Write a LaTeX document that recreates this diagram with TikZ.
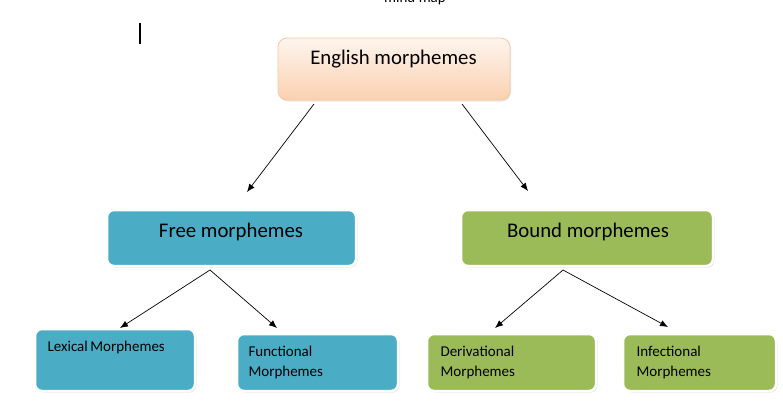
\documentclass[tikz,border=0pt]{standalone}
\usepackage{fontspec}
\setmainfont{Carlito}
\usetikzlibrary{shadows,arrows.meta}
\definecolor{freeblue}{HTML}{4BACC6}
\definecolor{boundgreen}{HTML}{9BBB59}
\definecolor{engtop}{HTML}{FEF5EE}
\definecolor{engbot}{HTML}{FAD1B0}
\definecolor{engline}{HTML}{F5C9A2}
\begin{document}
\begin{tikzpicture}[x=1pt,y=-1pt,
	box/.style={rectangle,rounded corners=7pt,draw=white,line width=2.5pt,
		drop shadow={shadow xshift=1.5pt,shadow yshift=-1.5pt,fill=black!22}},
	engbox/.style={rectangle,rounded corners=9pt,draw=engline,line width=0.8pt,
		top color=engtop,bottom color=engbot,
		drop shadow={shadow xshift=1pt,shadow yshift=-1.5pt,fill=black!18}},
	bigtext/.style={font=\fontsize{20.8}{24}\selectfont},
	smalltext/.style={font=\fontsize{15}{20}\selectfont,align=left,anchor=west}]
	\useasboundingbox (0,0) rectangle (783,412);
	% header remnants
	\node[font=\fontsize{15}{16}\selectfont,anchor=base] (title) at (415,3) {mind map};
	\draw[line width=1.3pt] (140,23) coordinate (c1) -- (140,44) coordinate (c2);
	% boxes
	\node[engbox,minimum width=232,minimum height=62] (eng) at (394,69) {};
	\node[box,fill=freeblue,minimum width=249,minimum height=56] (free) at (231.5,238) {};
	\node[box,fill=boundgreen,minimum width=252,minimum height=56] (bound) at (587,238) {};
	\node[box,fill=freeblue,minimum width=160,minimum height=62] (lex) at (115,360) {};
	\node[box,fill=freeblue,minimum width=161,minimum height=57] (func) at (317.5,362.5) {};
	\node[box,fill=boundgreen,minimum width=169,minimum height=57] (deriv) at (511.5,362.5) {};
	\node[box,fill=boundgreen,minimum width=153,minimum height=57] (infl) at (699.5,362.5) {};
	% texts
	\node[bigtext] (engtext) at (393.5,59) {English morphemes};
	\node[bigtext] (freetext) at (231,232) {Free morphemes};
	\node[bigtext] (boundtext) at (588,232) {Bound morphemes};
	\node[smalltext] (lextext) at (44,347) {Lexical\,Morphemes};
	\node[smalltext] (functext) at (245,362) {Functional\\Morphemes};
	\node[smalltext] (derivtext) at (437,362) {Derivational\\Morphemes};
	\node[smalltext] (infltext) at (633,362) {Infectional\\Morphemes};
	% arrow ends
	\coordinate (e1) at (314,104);
	\coordinate (e2) at (462,104);
	\coordinate (f0) at (210,270);
	\coordinate (b0) at (563,270);
	\coordinate (f1) at (247,192);
	\coordinate (b1) at (528,191);
	\coordinate (l1) at (120,328);
	\coordinate (u1) at (277,328);
	\coordinate (d1) at (495,328);
	\coordinate (i1) at (668,327);
	\path[-{Latex[length=8pt,width=6.5pt]},line width=0.7pt]
	(e1) edge (f1)
	(e2) edge (b1)
	(f0) edge (l1)
	edge (u1)
	(b0) edge (d1)
	edge (i1)
	;
\end{tikzpicture}
\end{document}
